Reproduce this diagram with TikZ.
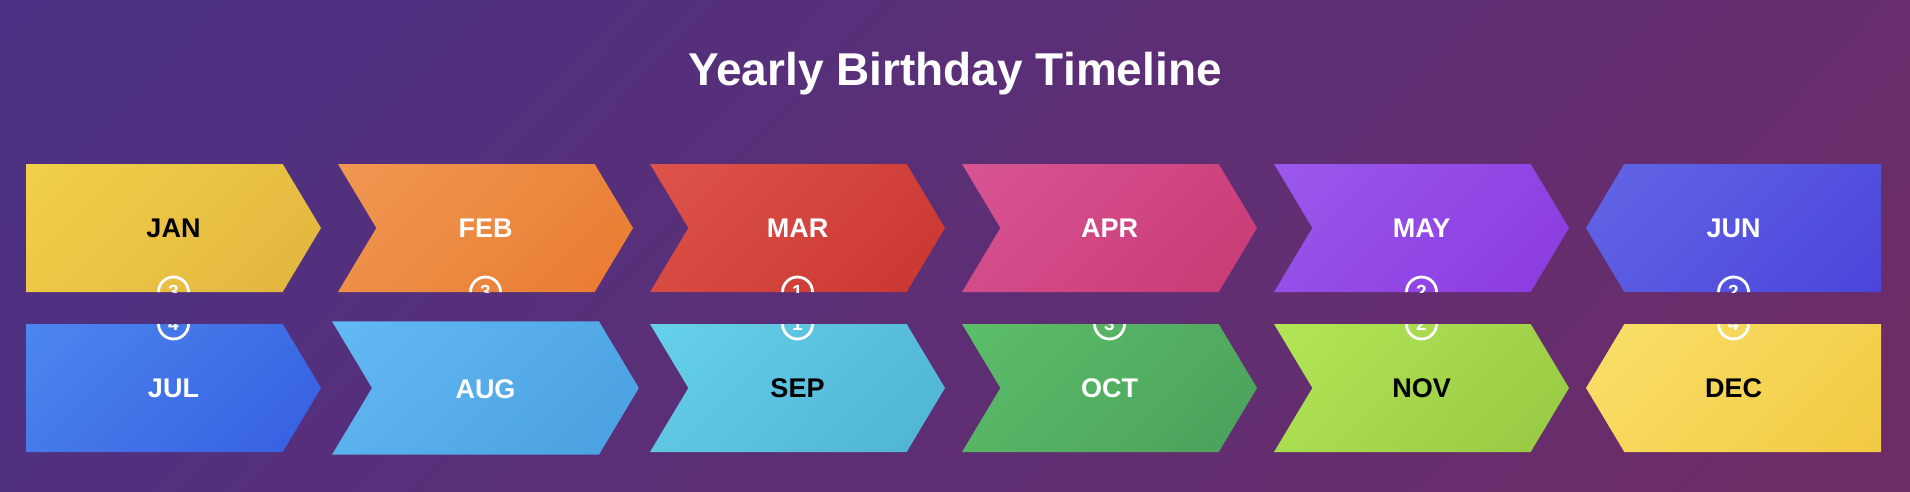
\documentclass[tikz,border=0pt]{standalone}
\usepackage{fontspec}
\setsansfont{Liberation Sans}
\usetikzlibrary{shadings}
\tikzset{every node/.append style={align=center}}
\usepackage{xcolor}
\definecolor{bgA}{RGB}{74,49,133}
\definecolor{bgB}{RGB}{110,44,102}
\definecolor{janL}{RGB}{242,208,74}
\definecolor{janR}{RGB}{225,180,62}
\definecolor{febL}{RGB}{240,152,82}
\definecolor{febR}{RGB}{233,122,48}
\definecolor{marL}{RGB}{221,84,75}
\definecolor{marR}{RGB}{201,53,47}
\definecolor{aprL}{RGB}{216,84,148}
\definecolor{aprR}{RGB}{200,58,115}
\definecolor{mayL}{RGB}{155,88,235}
\definecolor{mayR}{RGB}{138,58,224}
\definecolor{junL}{RGB}{98,102,230}
\definecolor{junR}{RGB}{74,69,218}
\definecolor{julL}{RGB}{77,134,238}
\definecolor{julR}{RGB}{53,94,224}
\definecolor{augL}{RGB}{98,185,243}
\definecolor{augR}{RGB}{74,160,224}
\definecolor{sepL}{RGB}{102,208,234}
\definecolor{sepR}{RGB}{79,178,210}
\definecolor{octL}{RGB}{92,190,106}
\definecolor{octR}{RGB}{74,160,90}
\definecolor{novL}{RGB}{178,230,86}
\definecolor{novR}{RGB}{150,200,66}
\definecolor{decL}{RGB}{249,224,106}
\definecolor{decR}{RGB}{242,201,66}

\tikzset{
  monthlbl/.style={font=\sffamily\bfseries\fontsize{27}{32}\selectfont,
                   anchor=base, inner sep=0pt},
  numring/.style={circle, draw=white, line width=2.8pt, minimum size=30pt,
                  inner sep=0pt, text=white,
                  font=\sffamily\bfseries\fontsize{19}{22}\selectfont},
}

% card outline, centred at the origin (first / middle / last column)
\newcommand{\cardclip}[1]{%
  \ifnum#1=0
    \clip (-147.5,-64) -- (109.15,-64) -- (147.5,0) -- (109.15,64) -- (-147.5,64) -- cycle;
  \else\ifnum#1=5
    \clip (-109.15,-64) -- (147.5,-64) -- (147.5,64) -- (-109.15,64) -- (-147.5,0) -- cycle;
  \else
    \clip (-147.5,-64) -- (109.15,-64) -- (147.5,0) -- (109.15,64) -- (-147.5,64) -- (-109.15,0) -- cycle;
  \fi\fi}

\begin{document}
\begin{tikzpicture}[x=1pt,y=-1pt]

% ── Background ────────────────────────────────────────────────────────────────
\useasboundingbox (0,0) rectangle (1910,492);
\shade[shading=bilinear interpolation, upper left=bgA, lower right=bgB,
       upper right={bgB!80!bgA}, lower left={bgB!20!bgA}]
      (0,0) rectangle (1910,492);

% Title
\node[font=\sffamily\bfseries\fontsize{46}{55}\selectfont, text=white,
      anchor=base, inner sep=0pt] (title) at (955,86) {Yearly Birthday Timeline};

% ── Month cards ───────────────────────────────────────────────────────────────
\foreach \i/\r/\m/\lbl/\tc/\d/\sc in {
  0/0/jan/JAN/black/3/1,
  1/0/feb/FEB/white/3/1,
  2/0/mar/MAR/white/1/1,
  3/0/apr/APR/white/0/1,
  4/0/may/MAY/white/2/1,
  5/0/jun/JUN/white/2/1,
  0/1/jul/JUL/white/4/1,
  1/1/aug/AUG/white/0/1.04,
  2/1/sep/SEP/black/1/1,
  3/1/oct/OCT/white/3/1,
  4/1/nov/NOV/black/2/1,
  5/1/dec/DEC/black/4/1}
{
  \begin{scope}[shift={(173.5+312*\i, 228+160*\r)}, scale=\sc]
    \cardclip{\i}
    \shade[shading=bilinear interpolation, upper left=\m L, lower right=\m R,
           upper right={\m R!70!\m L}, lower left={\m R!30!\m L}]
          (-147.5,-64) rectangle (147.5,64);
    % birthday count, cut by the card edge
    \ifnum\d>0
      \pgfmathsetmacro\ny{64-128*\r}
      \node[numring] (\m-n) at (0,\ny) {\d};
    \fi
    \node[monthlbl, text=\tc] (\m) at (0,9.7) {\lbl};
  \end{scope}
}

\end{tikzpicture}
\end{document}
